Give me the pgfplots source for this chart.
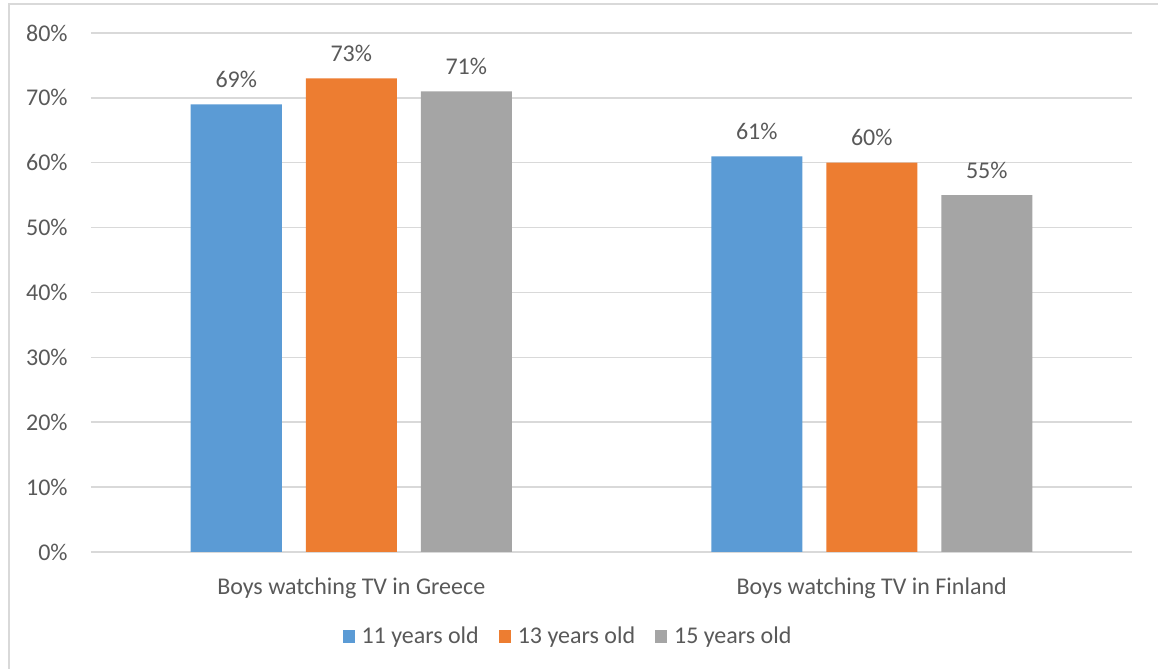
\documentclass[border=0pt]{standalone}
\usepackage{fontspec}
\setmainfont{Carlito}
\usepackage{pgfplots}
\pgfplotsset{compat=1.18}

\definecolor{cblue}{HTML}{5B9BD5}
\definecolor{corange}{HTML}{ED7D31}
\definecolor{cgray}{HTML}{A5A5A5}
\definecolor{cgrid}{HTML}{D9D9D9}
\definecolor{ctext}{HTML}{595959}

\begin{document}
\fontsize{12pt}{14pt}\selectfont
\begin{tikzpicture}
\begin{axis}[
    name=ax,
    at={(0,0)}, anchor=south west,
    scale only axis,
    width=520.5pt, height=259.5pt,
    ybar=12pt, bar width=45.5pt,
    xmin=-0.5, xmax=1.5,
    ymin=0, ymax=80,
    xtick=data,
    xticklabels={Boys watching TV in Greece, Boys watching TV in Finland},
    ytick={0,10,...,80},
    yticklabel={\pgfmathprintnumber{\tick}\%},
    /pgf/number format/assume math mode=true,
    axis line style={draw=none},
    major tick length=0pt,
    ymajorgrids,
    grid style={cgrid, line width=0.75pt},
    tick label style={font=\fontsize{12pt}{14pt}\selectfont, text=ctext},
    yticklabel style={anchor=east, inner sep=0pt, xshift=-11.5pt},
    xticklabel style={anchor=north, inner sep=0pt, yshift=-12.5pt},
    nodes near coords={\pgfmathprintnumber{\pgfplotspointmeta}\%},
    nodes near coords style={font=\fontsize{12pt}{14pt}\selectfont, text=ctext, anchor=base, inner sep=0pt, yshift=8.5pt},
    legend columns=3,
    legend style={
        at={(0.4606,-0.1638)}, anchor=center,
        draw=none, fill=none, inner sep=0pt,
        font=\fontsize{12pt}{14pt}\selectfont, text=ctext,
        nodes={inner xsep=3.5pt, inner ysep=0pt},
        /tikz/every even column/.append style={column sep=6.5pt},
    },
    legend image code/.code={\fill (0pt,-3pt) rectangle (6pt,3.5pt);},
]
\addplot[fill=cblue, draw=none] coordinates {(0,69) (1,61)};
\addplot[fill=corange, draw=none] coordinates {(0,73) (1,60)};
\addplot[fill=cgray, draw=none] coordinates {(0,71) (1,55)};
\legend{11 years old, 13 years old, 15 years old}
\end{axis}
\pgfresetboundingbox
\path[use as bounding box] ([shift={(-45.5pt,-58.5pt)}]ax.south west) rectangle ([shift={(533.5pt,276pt)}]ax.south west);
\draw[cgrid, line width=0.9pt] ([shift={(-41pt,-58.5pt)}]ax.south west) -- ([shift={(-41pt,274pt)}]ax.south west) -- ([shift={(533.5pt,274pt)}]ax.south west);
\end{tikzpicture}
\end{document}
